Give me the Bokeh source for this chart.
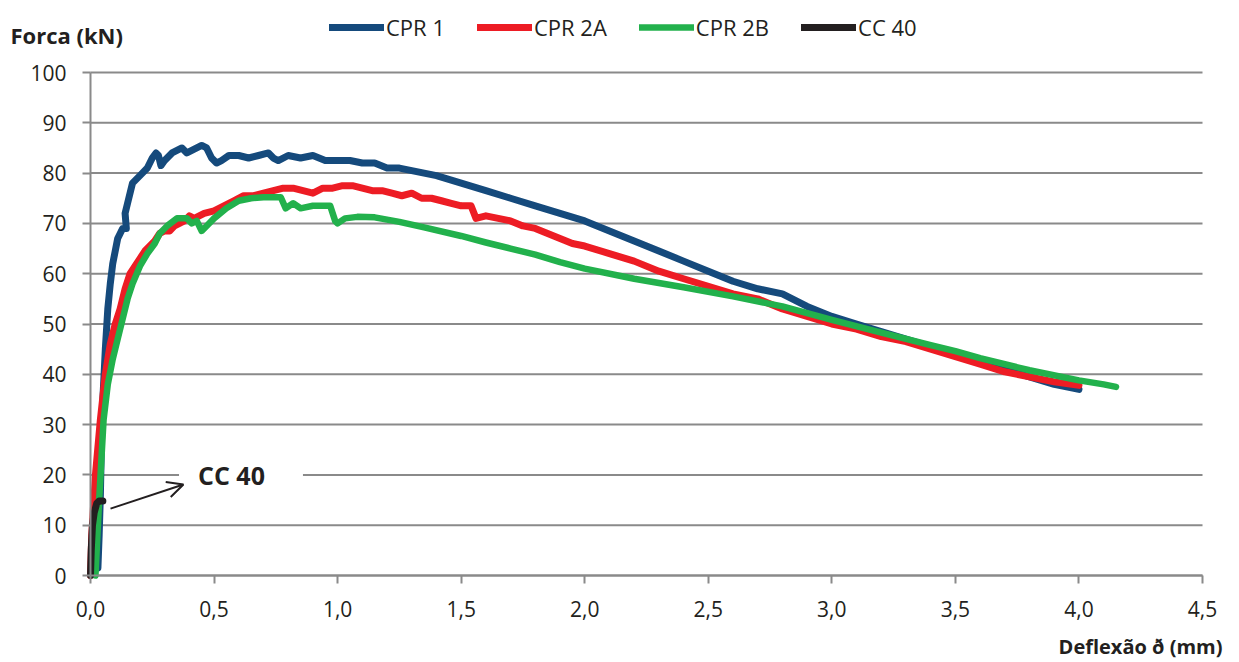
from bokeh.plotting import figure
from bokeh.models import (Range1d, FixedTicker, Legend, LegendItem, Label, Arrow, OpenHead)
from bokeh.embed import file_html
from bokeh.resources import INLINE

# ---- data ----
cpr1_x = [0.03, 0.035, 0.04, 0.045, 0.05, 0.06, 0.07, 0.08, 0.09, 0.10, 0.11, 0.12, 0.13,
          0.145, 0.14, 0.15, 0.17, 0.20, 0.23, 0.25, 0.265, 0.275, 0.285, 0.30, 0.33, 0.35,
          0.37, 0.39, 0.41, 0.43, 0.45, 0.47, 0.49, 0.51, 0.53, 0.56, 0.60, 0.64, 0.68, 0.72,
          0.74, 0.76, 0.80, 0.85, 0.90, 0.95, 1.00, 1.05, 1.10, 1.15, 1.20, 1.25, 1.30, 1.35,
          1.40, 1.50, 1.60, 1.70, 1.80, 1.90, 2.00, 2.10, 2.20, 2.30, 2.40, 2.50, 2.60, 2.70,
          2.80, 2.90, 3.00, 3.10, 3.20, 3.30, 3.40, 3.50, 3.60, 3.70, 3.80, 3.90, 3.95, 4.00]
cpr1_y = [1.5, 8, 16, 28, 35, 45, 53, 58, 62, 64.5, 67, 68, 69,
          69, 72, 74, 78, 79.5, 81, 83, 84, 83.5, 81.5, 82.5, 84, 84.5,
          85, 84, 84.5, 85, 85.5, 85, 83, 82, 82.5, 83.5, 83.5, 83, 83.5, 84,
          83, 82.5, 83.5, 83, 83.5, 82.5, 82.5, 82.5, 82, 82, 81, 81, 80.5, 80,
          79.5, 78, 76.5, 75, 73.5, 72, 70.5, 68.5, 66.5, 64.5, 62.5, 60.5, 58.5, 57,
          56, 53.5, 51.5, 50, 48.5, 47, 45.5, 44, 42.5, 41, 39.5, 38, 37.5, 37]

cpr2a_x = [0.0, 0.005, 0.02, 0.04, 0.06, 0.08, 0.10, 0.12, 0.14, 0.16, 0.18, 0.20, 0.22,
           0.24, 0.26, 0.28, 0.30, 0.32, 0.34, 0.36, 0.38, 0.40, 0.42, 0.44, 0.46, 0.50,
           0.54, 0.58, 0.62, 0.66, 0.70, 0.74, 0.78, 0.82, 0.86, 0.90, 0.94, 0.98, 1.02,
           1.06, 1.10, 1.14, 1.18, 1.22, 1.26, 1.30, 1.34, 1.38, 1.42, 1.46, 1.50, 1.54,
           1.56, 1.60, 1.65, 1.70, 1.75, 1.80, 1.85, 1.90, 1.95, 2.00, 2.10, 2.20, 2.30,
           2.40, 2.50, 2.60, 2.70, 2.80, 2.90, 3.00, 3.10, 3.20, 3.30, 3.40, 3.50, 3.60,
           3.70, 3.80, 3.90, 4.00]
cpr2a_y = [0, 8, 20, 31, 40, 46, 50, 53, 57, 60, 61.5, 63, 64.5,
           65.5, 66.5, 68, 68.5, 68.5, 69.5, 70, 70.5, 71.5, 71, 71.5, 72, 72.5,
           73.5, 74.5, 75.5, 75.5, 76, 76.5, 77, 77, 76.5, 76, 77, 77, 77.5,
           77.5, 77, 76.5, 76.5, 76, 75.5, 76, 75, 75, 74.5, 74, 73.5, 73.5,
           71, 71.5, 71, 70.5, 69.5, 69, 68, 67, 66, 65.5, 64, 62.5, 60.5,
           59, 57.5, 56, 55, 53, 51.5, 50, 49, 47.5, 46.5, 45, 43.5, 42,
           40.5, 39.5, 38.5, 37.8]

cpr2b_x = [0.02, 0.035, 0.053, 0.07, 0.09, 0.11, 0.13, 0.15, 0.17, 0.20, 0.23, 0.26, 0.28,
           0.31, 0.35, 0.39, 0.41, 0.43, 0.45, 0.47, 0.50, 0.55, 0.60, 0.65, 0.70, 0.77,
           0.79, 0.82, 0.85, 0.90, 0.97, 0.99, 1.00, 1.03, 1.08, 1.15, 1.25, 1.35, 1.50,
           1.60, 1.70, 1.80, 1.90, 2.00, 2.20, 2.40, 2.60, 2.80, 3.00, 3.20, 3.40, 3.50,
           3.60, 3.80, 4.00, 4.10, 4.15]
cpr2b_y = [0, 15, 31, 38, 43, 47, 51, 55, 58, 61.5, 64, 66, 68,
           69.5, 71, 71, 70, 70.5, 68.5, 69.5, 71, 73, 74.5, 75, 75.2, 75.2,
           73, 74, 73, 73.5, 73.5, 70.5, 70, 71, 71.3, 71.2, 70.3, 69.2, 67.5,
           66.2, 65, 63.8, 62.3, 61, 59, 57.3, 55.5, 53.5, 50.8, 48.3, 45.8, 44.6,
           43.2, 40.8, 38.8, 38, 37.5]

cc40_x = [0.0, 0.003, 0.008, 0.015, 0.025, 0.035, 0.05]
cc40_y = [0, 5, 10, 12.5, 14.3, 14.8, 14.8]

series_names = ["CPR 1", "CPR 2A", "CPR 2B", "CC 40"]
series_colors = ["#154a7c", "#ed1c24", "#22b14c", "#231f20"]

x_ticks = [0.0, 0.5, 1.0, 1.5, 2.0, 2.5, 3.0, 3.5, 4.0, 4.5]
x_tick_labels = ["0,0", "0,5", "1,0", "1,5", "2,0", "2,5", "3,0", "3,5", "4,0", "4,5"]
y_ticks = [0, 10, 20, 30, 40, 50, 60, 70, 80, 90, 100]

X_MIN, X_MAX, Y_MIN, Y_MAX = 0.0, 4.5, 0, 100

FONT = "Open Sans"
GRAY = "#8a8a8a"
TXT = "#231f20"

# plot area is 1112 x 503 px for 0..4.5 x 0..100; the frame is extended on every
# side to host the titles, tick labels and legend (both axes pinned at 0)
PLOT_W, PLOT_H = 1112, 503
LEFT_PAD, TOP_PAD, RIGHT_PAD, BOTTOM_PAD = 90, 72, 30, 85
FRAME_H = PLOT_H + TOP_PAD + BOTTOM_PAD
px_x = (X_MAX - X_MIN) / PLOT_W
px_y = (Y_MAX - Y_MIN) / PLOT_H
x_start, x_end = X_MIN - LEFT_PAD * px_x, X_MAX + RIGHT_PAD * px_x
y_start, y_end = Y_MIN - BOTTOM_PAD * px_y, Y_MAX + TOP_PAD * px_y

p = figure(frame_width=PLOT_W + LEFT_PAD + RIGHT_PAD, frame_height=FRAME_H,
           output_backend="svg", toolbar_location=None,
           x_range=Range1d(x_start, x_end), y_range=Range1d(y_start, y_end),
           min_border_left=0, min_border_right=0, min_border_top=0, min_border_bottom=0)
p.outline_line_color = None
p.background_fill_color = "white"
p.border_fill_color = "white"

# axes
p.xaxis.ticker = FixedTicker(ticks=x_ticks)
p.xaxis.major_label_overrides = {t: l for t, l in zip(x_ticks, x_tick_labels)}
p.xaxis.bounds = (X_MIN, X_MAX)
p.xaxis.fixed_location = Y_MIN
p.yaxis.ticker = FixedTicker(ticks=y_ticks)
p.yaxis.bounds = (Y_MIN, Y_MAX)
p.yaxis.fixed_location = X_MIN
for ax in (p.xaxis, p.yaxis):
    ax.axis_line_color = GRAY
    ax.axis_line_width = 2
    ax.major_tick_line_color = GRAY
    ax.major_tick_line_width = 2
    ax.major_tick_in = 0
    ax.major_tick_out = 8
    ax.minor_tick_line_color = None
    ax.major_label_text_font = FONT
    ax.major_label_text_font_size = "21px"
    ax.major_label_text_color = TXT
p.yaxis.major_label_standoff = 16
p.xaxis.major_label_standoff = 17

p.xgrid.grid_line_color = None
p.ygrid.grid_line_color = None
# horizontal grid lines between the axis bounds
p.segment(x0=[X_MIN] * len(y_ticks), x1=[X_MAX] * len(y_ticks), y0=y_ticks, y1=y_ticks,
          line_color=GRAY, line_width=2)

xs = [cpr1_x, cpr2a_x, cpr2b_x, cc40_x]
ys = [cpr1_y, cpr2a_y, cpr2b_y, cc40_y]
widths = [7, 7, 6.5, 7]
items = []
for name, color, x, y, w in zip(series_names, series_colors, xs, ys, widths):
    r = p.line(x, y, line_color=color, line_width=w, line_join="round", line_cap="round")
    items.append(LegendItem(label=name, renderers=[r]))

# legend row: left edge 329 px, bottom 42 px from the top of the frame
legend = Legend(items=items, orientation="horizontal", location=(329, FRAME_H - 42),
                label_text_font=FONT, label_text_font_size="22px", label_text_color=TXT,
                glyph_width=55, glyph_height=20, label_standoff=2, spacing=32,
                border_line_color=None, background_fill_color=None,
                padding=0, margin=0)
p.add_layout(legend)

# axis titles
p.add_layout(Label(x=x_start + 10 * px_x, y=Y_MAX + 38 * px_y, text="Forca (kN)",
                   text_align="left", text_baseline="middle", text_font=FONT,
                   text_font_size="22px", text_font_style="bold", text_color=TXT))
p.add_layout(Label(x=X_MAX + 20 * px_x, y=Y_MIN - 71 * px_y, text="Deflexão ð (mm)",
                   text_align="right", text_baseline="middle", text_font=FONT,
                   text_font_size="20px", text_font_style="bold", text_color=TXT))

# annotation CC 40
cc_label = Label(x=0.609, y=20, text="CC 40", text_align="center", text_baseline="middle",
                 text_font=FONT, text_font_size="25px", text_font_style="bold",
                 text_color=TXT, background_fill_color="white",
                 padding=dict(left=19, right=38, top=4, bottom=4))
p.add_layout(cc_label)
p.add_layout(Arrow(x_start=0.081, y_start=13.3, x_end=0.376, y_end=18.1,
                   line_color=TXT, line_width=2,
                   end=OpenHead(size=16, line_color=TXT, line_width=2)))

open("out.html", "w").write(file_html(p, INLINE))
